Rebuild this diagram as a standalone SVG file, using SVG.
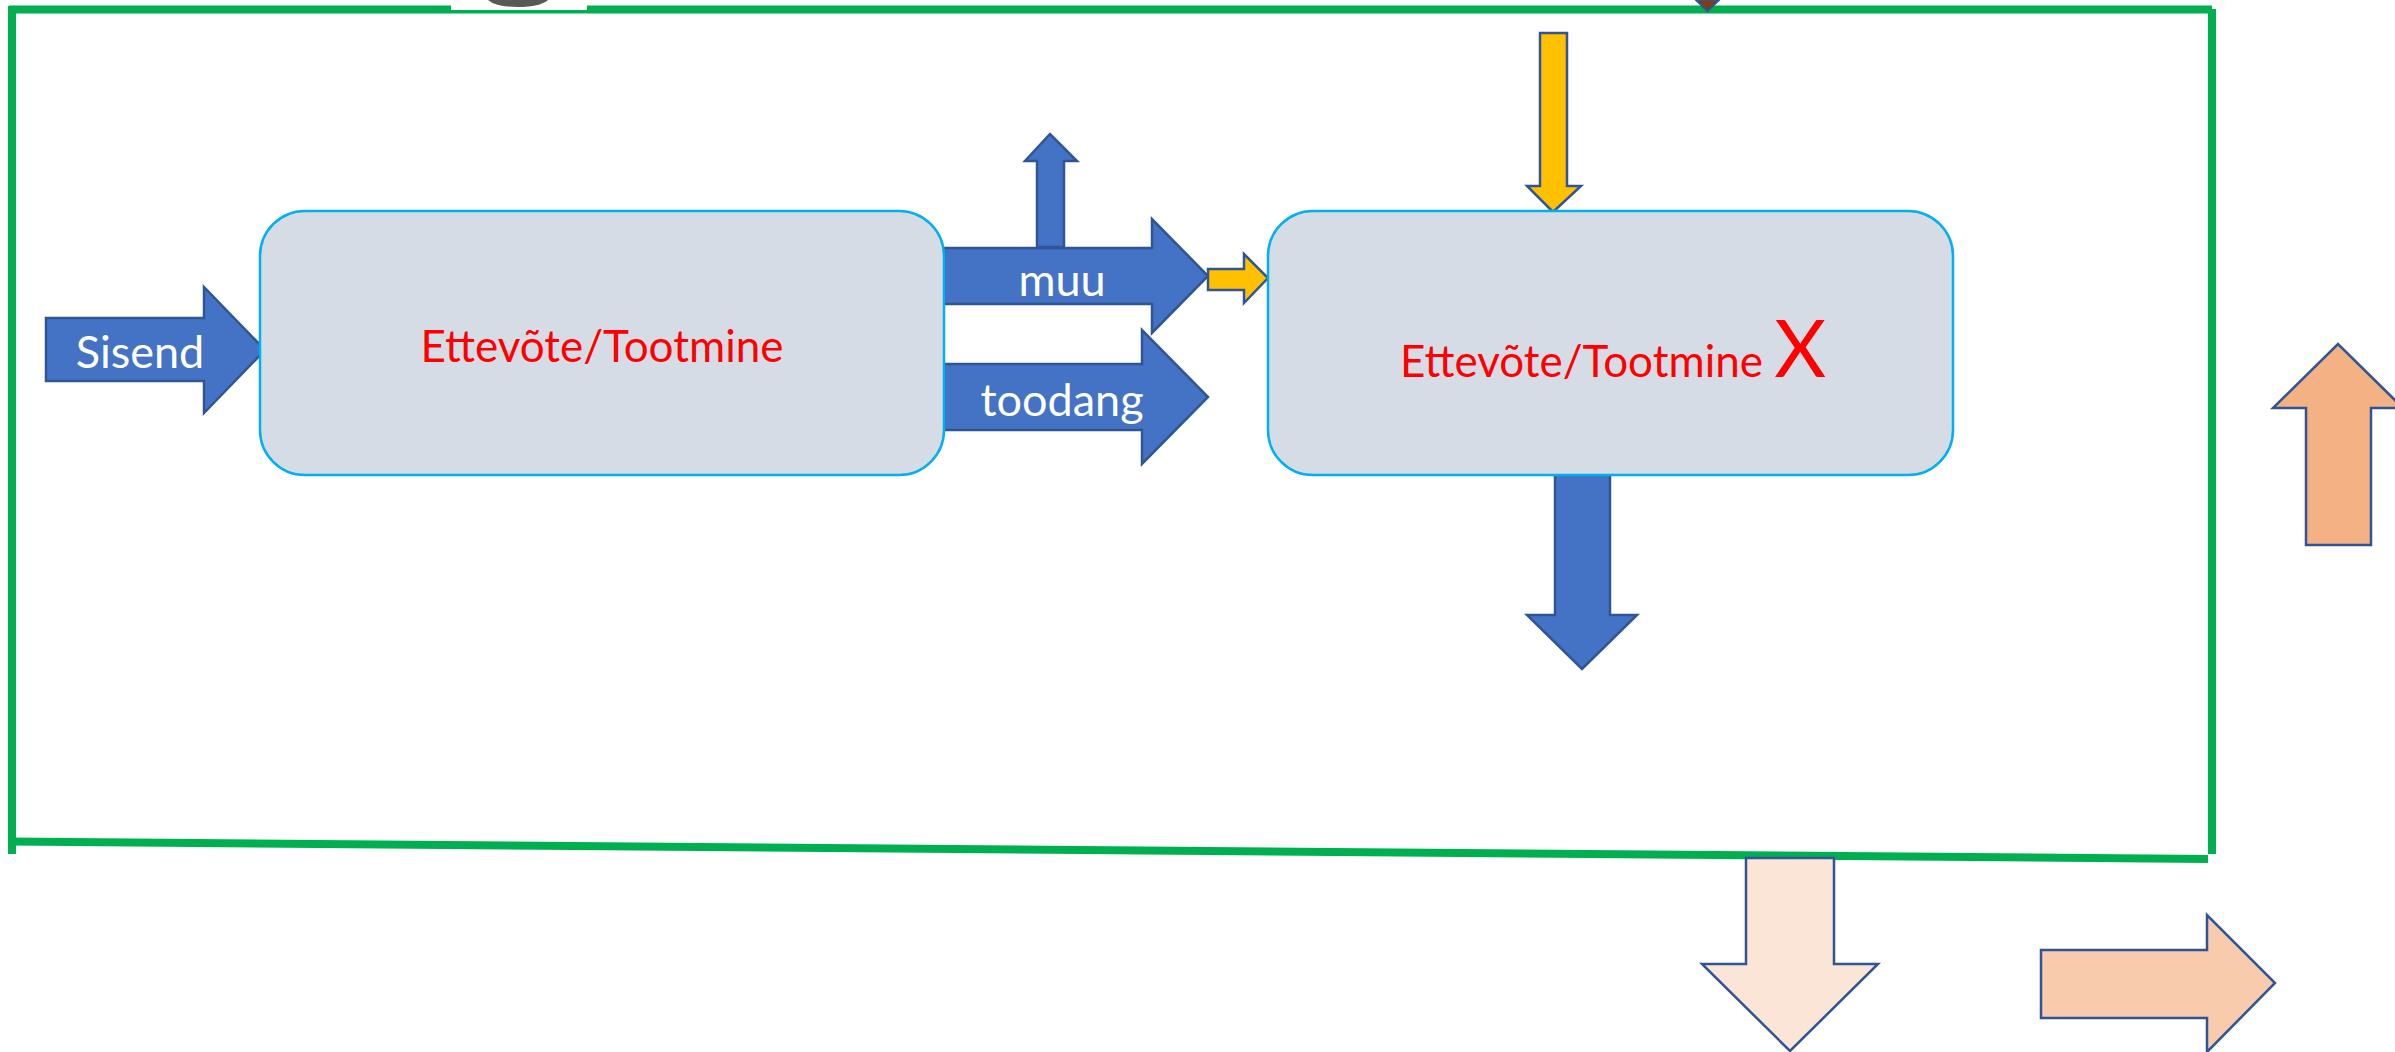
<svg xmlns="http://www.w3.org/2000/svg" width="2395" height="1052" viewBox="0 0 2395 1052">
<style>
.frame{stroke:#00B050;stroke-width:8;fill:none}
.blue{fill:#4472C4;stroke:#2F5597;stroke-width:2.5;stroke-linejoin:miter}
.yellow{fill:#FFC000;stroke:#2F5597;stroke-width:2.5}
.node{fill:#D6DCE5;stroke:#00B0F0;stroke-width:2.5}
.ntext{font-family:Lato,"Liberation Sans",sans-serif;fill:#FF0000;font-size:44px}
.wtext{font-family:Lato,"Liberation Sans",sans-serif;fill:#FFFFFF;font-size:45px}
</style>
<rect x="0" y="0" width="2395" height="1052" fill="#FFFFFF"/>
<g id="frame">
<line class="frame" x1="9" y1="9.5" x2="2212" y2="9.5"/>
<line class="frame" x1="12" y1="6" x2="12" y2="854"/>
<line class="frame" x1="2212" y1="9" x2="2212" y2="854"/>
<line class="frame" x1="8" y1="841.5" x2="2208" y2="859"/>
<rect x="451" y="0" width="136" height="10" fill="#FFFFFF"/>
<path d="M488 0 H548 Q540 7 518 7 Q496 7 488 0 Z" fill="#595959"/>
<polygon points="1696,0 1719,0 1707.5,11" fill="#843C0C" stroke="#2F5597" stroke-width="2"/>
</g>
<g id="connectors">
<polygon id="sisend-arrow" class="blue" points="46,318 204,318 204,287 265,350 204,413 204,381 46,381"/>
<polygon id="up-arrow" class="blue" points="1037,247 1037,161 1025,161 1050,134 1077,161 1064,161 1064,247"/>
<polygon id="muu-arrow" class="blue" points="944,248 1152,248 1152,219 1208,276 1152,333 1152,304 944,304"/>
<polygon id="toodang-arrow" class="blue" points="944,364 1142,364 1142,330 1208,397 1142,464 1142,430 944,430"/>
<polygon id="yellow-right" class="yellow" points="1208,269 1244,269 1244,254 1268,278 1244,303 1244,290 1208,290"/>
<polygon id="yellow-down" class="yellow" points="1540,33 1567,33 1567,186 1581,186 1553,212 1527,186 1540,186"/>
<polygon id="blue-down" class="blue" points="1555,474 1610,474 1610,615 1637,615 1582,669 1527,615 1555,615"/>
<polygon id="orange-up" fill="#F4B183" stroke="#2F5597" stroke-width="2.5" points="2306,545 2306,408 2273,408 2338,344 2403,408 2371,408 2371,545"/>
<polygon id="peach-down" fill="#FBE5D6" stroke="#2F5597" stroke-width="2.5" points="1746,858 1834,858 1834,964 1878,964 1790,1051 1702,964 1746,964"/>
<polygon id="peach-right" fill="#F8CBAD" stroke="#2F5597" stroke-width="2.5" points="2041,950 2207,950 2207,915 2275,983 2207,1052 2207,1018 2041,1018"/>
<text class="wtext" x="140" y="368" text-anchor="middle">Sisend</text>
<text class="wtext" x="1062" y="296" text-anchor="middle">muu</text>
<text class="wtext" x="1062" y="416" text-anchor="middle" font-size="46">toodang</text>
</g>
<g id="node-left">
<rect class="node" x="260" y="211" width="684" height="264" rx="45" ry="45"/>
<text class="ntext" x="602" y="362" text-anchor="middle">Ettevõte/Tootmine</text>
</g>
<g id="node-right">
<rect class="node" x="1268" y="211" width="685" height="264" rx="45" ry="45"/>
<text class="ntext" x="1400" y="377">Ettevõte/Tootmine <tspan font-size="80">X</tspan></text>
</g>
</svg>
